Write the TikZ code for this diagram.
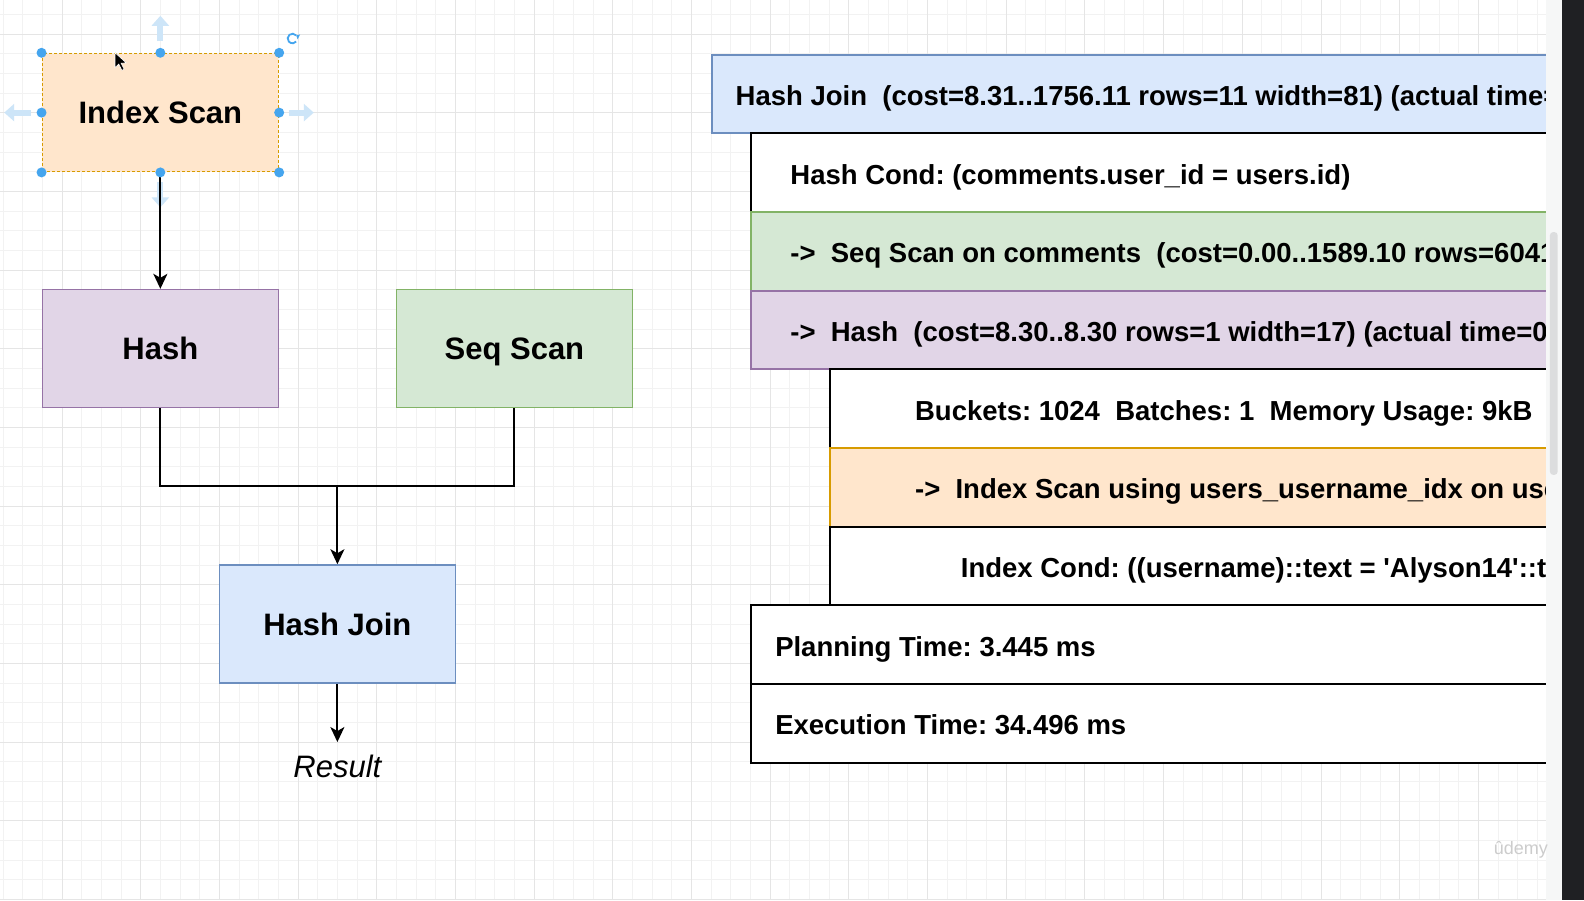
\documentclass[tikz,border=0pt]{standalone}
\usepackage{fontspec}
\setmainfont{Liberation Sans}
\usetikzlibrary{arrows.meta}
\frenchspacing
\definecolor{gridmin}{HTML}{F2F2F2}
\definecolor{gridmaj}{HTML}{E5E5E5}
\definecolor{orfill}{HTML}{FFE6CC}
\definecolor{ordraw}{HTML}{D79B00}
\definecolor{pufill}{HTML}{E1D5E7}
\definecolor{pudraw}{HTML}{9673A6}
\definecolor{grfill}{HTML}{D5E8D4}
\definecolor{grdraw}{HTML}{82B366}
\definecolor{blfill}{HTML}{DAE8FC}
\definecolor{bldraw}{HTML}{6C8EBF}
\definecolor{handlec}{HTML}{45A5EE}
\definecolor{hoverc}{HTML}{CDE5F8}
\definecolor{stripc}{HTML}{F6F7F7}
\definecolor{darkc}{HTML}{1F2023}
\definecolor{thumbc}{HTML}{DCDDDE}
\begin{document}
\begin{tikzpicture}[x={(19.67pt,0pt)}, y={(0pt,-19.67pt)},
  gminor/.style={draw=gridmin, line width=0.8pt},
  gmajor/.style={draw=gridmaj, line width=0.8pt},
  box/.style={draw, line width=1.6pt, minimum width=236.04pt, minimum height=118.02pt,
    inner sep=0pt, font=\fontsize{31}{36}\selectfont\bfseries, text height=22pt, text depth=0pt},
  conn/.style={line width=2pt, black, -{Stealth[length=15pt,width=14pt,inset=4pt]}},
  wire/.style={line width=2pt, black},
  rowbox/.style={draw=black, line width=2pt, anchor=north west, minimum height=78.68pt, inner sep=0pt},
  rowtext/.style={anchor=base west, inner sep=0pt, font=\fontsize{27.5}{33}\selectfont\bfseries},
  hover/.style={line width=6pt, hoverc, -{Triangle[length=10pt,width=17pt]}},
  handle/.style={fill=handlec}]
\def\L{-0.15252}\def\T{-0.72446}\def\R{80.376}\def\B{45.0305}
\useasboundingbox (\L,\T) rectangle (\R,\B);
\fill[white] (\L,\T) rectangle (\R,\B);
% grid
\foreach \j in {0,...,78} \draw[gminor] (\j,\T) -- (\j,\B);
\foreach \j in {0,...,45} \draw[gminor] (\L,\j) -- (78.44,\j);
\foreach \j in {3,7,...,75} \draw[gmajor] (\j,\T) -- (\j,\B);
\foreach \j in {1,5,...,45} \draw[gmajor] (\L,\j) -- (78.44,\j);
% right window edge
\fill[stripc] (78.44,\T) rectangle (79.26,\B);
\fill[darkc] (79.26,\T) rectangle (\R,\B);
\fill[thumbc, rounded corners=3.5pt] (78.64,11.07) rectangle (79.04,23.42);

% left diagram
\node[box, fill=orfill, draw=ordraw, dash pattern=on 3pt off 2pt] (idx) at (8,5) {Index Scan};
\node[box, fill=pufill, draw=pudraw] (hash) at (8,17) {Hash};
\node[box, fill=grfill, draw=grdraw] (seq) at (26,17) {Seq Scan};
\node[box, fill=blfill, draw=bldraw] (join) at (17,31) {Hash Join};
\node[inner sep=0pt, font=\fontsize{31}{36}\selectfont\itshape, text height=22pt, text depth=0pt] (res) at (17,38.25) {Result};
\coordinate (jn) at (17,24);
\coordinate (resin) at (17,37.0);

% hover arrows and selection handles
\draw[hover] ([yshift=11.6pt]idx.north) -- ([yshift=37pt]idx.north);
\draw[hover] ([xshift=-10.6pt]idx.west) -- ([xshift=-37.3pt]idx.west);
\draw[hover] ([xshift=9.6pt]idx.east) -- ([xshift=34.6pt]idx.east);
\draw[hover] ([yshift=-10pt]idx.south) -- ([yshift=-35pt]idx.south);

\draw[conn] (idx.south) -- (hash.north);
\draw[wire] (hash.south) |- (jn) -| (seq.south);
\draw[conn] (jn) -- (join.north);
\draw[conn] (join.south) -- (resin);

\foreach \a in {north west, north, north east, west, east, south west, south, south east}
  \fill[handle] (idx.\a) circle (5pt);
\coordinate (rot) at ([xshift=13.3pt, yshift=14.3pt]idx.north east);
\draw[handlec, line width=1.8pt] ([shift={(40:4.8pt)}]rot) arc (40:320:4.8pt);
\fill[handlec] ([shift={(40:4.8pt)}]rot) -- ++(4pt,1pt) -- ++(-2.5pt,-5pt) -- cycle;
% mouse cursor
\filldraw[fill=black, draw=white, line width=0.6pt] (5.694,1.955) -- ++(0pt,-15pt) -- ++(3.8pt,3.6pt)
  -- ++(3pt,-6.2pt) -- ++(2.3pt,1.1pt) -- ++(-3pt,6pt) -- ++(5.2pt,0.3pt) -- cycle;

% right table
\begin{scope}
\clip (35,0) rectangle (78.44,40);
\node[rowbox, fill=blfill, draw=bldraw, minimum width=865.48pt] (r1) at (36,2) {};
\node[rowtext] (t1) at (37.24,4.63) {Hash Join\ \ (cost=8.31..1756.11 rows=11 width=81) (actual time=};
\node[rowbox, fill=white, minimum width=826.14pt] (r2) at (38,6) {};
\node[rowtext] (t2) at (40.02,8.63) {Hash Cond: (comments.user\_id = users.id)};
\node[rowbox, fill=grfill, draw=grdraw, minimum width=826.14pt] (r3) at (38,10) {};
\node[rowtext] (t3) at (40.02,12.63) {->\ \ Seq Scan on comments\ \ (cost=0.00..1589.10 rows=6041};
\node[rowbox, fill=pufill, draw=pudraw, minimum width=826.14pt] (r4) at (38,14) {};
\node[rowtext] (t4) at (40.02,16.63) {->\ \ Hash\ \ (cost=8.30..8.30 rows=1 width=17) (actual time=0};
\node[rowbox, fill=white, minimum width=747.46pt] (r5) at (42,18) {};
\node[rowtext] (t5) at (46.36,20.63) {Buckets: 1024\ \ Batches: 1\ \ Memory Usage: 9kB};
\node[rowbox, fill=orfill, draw=ordraw, minimum width=747.46pt] (r6) at (42,22) {};
\node[rowtext] (t6) at (46.36,24.63) {->\ \ Index Scan using users\_username\_idx on users};
\node[rowbox, fill=white, minimum width=747.46pt] (r7) at (42,26) {};
\node[rowtext] (t7) at (48.69,28.63) {Index Cond: ((username)::text = \textquotesingle Alyson14\textquotesingle::text};
\node[rowbox, fill=white, minimum width=826.14pt] (r8) at (38,30) {};
\node[rowtext] (t8) at (39.25,32.63) {Planning Time: 3.445 ms};
\node[rowbox, fill=white, minimum width=826.14pt] (r9) at (38,34) {};
\node[rowtext] (t9) at (39.25,36.63) {Execution Time: 34.496 ms};
\end{scope}

% watermark
\node[inner sep=0pt, text=gray!40, font=\fontsize{18}{20}\selectfont] (wm) at (77.17,42.49) {\^{u}demy};
\end{tikzpicture}
\end{document}
